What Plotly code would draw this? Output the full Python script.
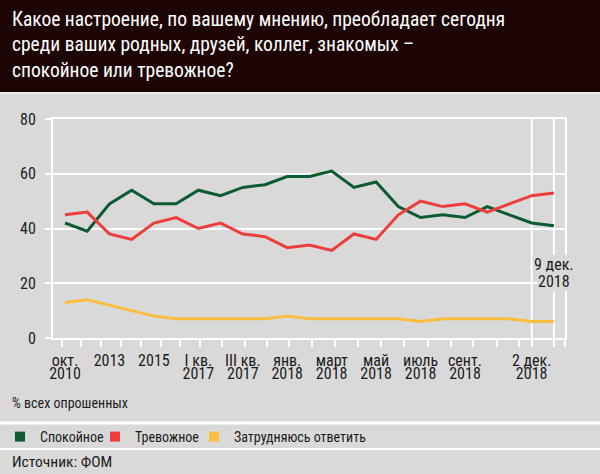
import plotly.graph_objects as go

# ---------------- data ----------------
calm = [42, 39, 49, 54, 49, 49, 54, 52, 55, 56, 59, 59, 61, 55, 57, 48, 44, 45, 44, 48, 45, 42, 41]
anxious = [45, 46, 38, 36, 42, 44, 40, 42, 38, 37, 33, 34, 32, 38, 36, 45, 50, 48, 49, 46, 49, 52, 53]
unsure = [13, 14, 12, 10, 8, 7, 7, 7, 7, 7, 8, 7, 7, 7, 7, 7, 6, 7, 7, 7, 7, 6, 6]
series_names = ["Спокойное", "Тревожное", "Затрудняюсь ответить"]

label_idx = [0, 2, 4, 6, 8, 10, 12, 14, 16, 18, 21]
labels_top = ["окт.", "2013", "2015", "I кв.", "III кв.", "янв.", "март", "май", "июль", "сент.", "2 дек."]
labels_bottom = ["2010", "", "", "2017", "2017", "2018", "2018", "2018", "2018", "2018", "2018"]
last_label = ["9 дек.", "2018"]

title_text = ("Какое настроение, по вашему мнению, преобладает сегодня<br>"
              "среди ваших родных, друзей, коллег, знакомых –<br>"
              "спокойное или тревожное?")
unit_text = "% всех опрошенных"
source_text = "Источник: ФОМ"

# ---------------- style ----------------
FONT = "Roboto Condensed, DejaVu Sans Condensed, sans-serif"
BG = "#d9d9d9"
BAND = "#1e0505"
TXT = "#1c1c1c"
GREEN = "#0d5b31"
RED = "#ee3d3a"
YELLOW = "#fbbd3e"
COLORS = [GREEN, RED, YELLOW]
W, H = 600, 474
L, R, T, B = 53, 35, 119, 136
PW, PH = W - L - R, H - T - B

x = list(range(len(calm)))
x_lo, x_hi = -0.54, len(calm) - 0.5
unit = PW / (x_hi - x_lo)


def px_to_x(px):
    return x_lo + (px - L) / unit


def paper_x(px):
    return (px - L) / PW


def paper_y(py):
    return (H - B - py) / PH


minor_px = [61.7, 81, 101, 121, 141, 161, 180, 200, 222, 245, 267, 289, 312,
            335, 358, 381, 404, 428, 451, 473, 497, 519]
minor_vals = [px_to_x(p) for p in minor_px] + [label_idx[-1], x[-1], x_hi]

legend_ids = ["legend", "legend2", "legend3"]
legend_px = [0, 95, 194]

fig = go.Figure()
for vals, name, col in zip([calm, anxious, unsure], series_names, COLORS):
    fig.add_trace(go.Scatter(x=x, y=vals, mode="lines", name=name,
                             line=dict(color=col, width=3), showlegend=False,
                             legendgroup=name, hoverinfo="skip"))
for name, col, lid in zip(series_names, COLORS, legend_ids):
    fig.add_trace(go.Scatter(x=[None], y=[None], mode="markers", name=name,
                             marker=dict(symbol="square", size=10, color=col),
                             legendgroup=name, showlegend=True, xaxis="x2", legend=lid))

# vertical white reference lines at 2 дек and 9 дек
for xv in [label_idx[-1], x[-1]]:
    fig.add_shape(type="line", xref="x", yref="paper", x0=xv, x1=xv, y0=0, y1=1,
                  line=dict(color="white", width=2), layer="below")

# header band
fig.add_shape(type="rect", xref="paper", yref="paper", x0=paper_x(0), x1=paper_x(W),
              y0=paper_y(92), y1=paper_y(0), fillcolor=BAND, line=dict(width=0), layer="below")
fig.add_shape(type="line", xref="paper", yref="paper", x0=paper_x(0), x1=paper_x(W),
              y0=paper_y(93), y1=paper_y(93), line=dict(color="#ececec", width=2))
# separators
for py, lw in [(423, 3), (449, 2)]:
    fig.add_shape(type="line", xref="paper", yref="paper", x0=paper_x(0), x1=paper_x(W),
                  y0=paper_y(py), y1=paper_y(py), line=dict(color="white", width=lw))

for txt, py in zip(last_label, [264, 281]):
    fig.add_annotation(x=x[-1], xref="x", y=paper_y(py), yref="paper", text=txt,
                       showarrow=False, font=dict(family=FONT, size=16, color=TXT),
                       bgcolor=BG, xanchor="center", yanchor="middle", borderpad=0)
fig.add_annotation(x=paper_x(10), xref="paper", y=paper_y(403), yref="paper", text=unit_text,
                   showarrow=False, font=dict(family=FONT, size=14, color=TXT),
                   xanchor="left", yanchor="middle")
fig.add_annotation(x=paper_x(10), xref="paper", y=paper_y(462), yref="paper", text=source_text,
                   showarrow=False, font=dict(family=FONT, size=15.5, color=TXT),
                   xanchor="left", yanchor="middle")

legends = {}
for lid, lpx in zip(legend_ids, legend_px):
    legends[lid] = dict(orientation="h", xref="container", yref="container", x=lpx / W,
                        xanchor="left", y=1 - 437 / H, yanchor="middle",
                        font=dict(family=FONT, size=14, color=TXT),
                        bgcolor="rgba(0,0,0,0)", itemclick=False, itemdoubleclick=False)

fig.update_layout(
    width=W, height=H,
    margin=dict(l=L, r=R, t=T, b=B),
    paper_bgcolor=BG, plot_bgcolor=BG,
    font=dict(family=FONT, color=TXT),
    title=dict(text=title_text, xref="container", yref="container", x=12 / W, xanchor="left",
               y=1 - 26 / H, yanchor="top", font=dict(family=FONT, size=19.5, color="white")),
    showlegend=True,
    **legends,
    xaxis=dict(range=[x_lo, x_hi], tickmode="array", tickvals=label_idx, ticktext=labels_top,
               ticks="", showgrid=False, zeroline=False, showline=True, linecolor="white",
               linewidth=2, mirror=True, tickfont=dict(family=FONT, size=16, color=TXT),
               ticklabelstandoff=7,
               minor=dict(tickmode="array", tickvals=minor_vals, ticks="outside", ticklen=7,
                          tickcolor="white", tickwidth=2, showgrid=False)),
    xaxis2=dict(range=[x_lo, x_hi], overlaying="x", anchor="y", side="bottom",
                tickmode="array", tickvals=label_idx, ticktext=labels_bottom, ticks="",
                showgrid=False, zeroline=False, showline=False,
                tickfont=dict(family=FONT, size=16, color=TXT), ticklabelstandoff=24),
    yaxis=dict(range=[0, 80], tickmode="array", tickvals=[0, 20, 40, 60, 80],
               ticks="outside", ticklen=6, tickcolor="white", tickwidth=2,
               showgrid=True, gridcolor="white", gridwidth=2, zeroline=False,
               showline=True, linecolor="white", linewidth=2, mirror=True,
               tickfont=dict(family=FONT, size=16, color=TXT), ticklabelstandoff=6),
)

fig.write_html("out.html", config={"displayModeBar": False},
               post_script="document.body.style.margin='0px';document.body.style.overflow='hidden';")
